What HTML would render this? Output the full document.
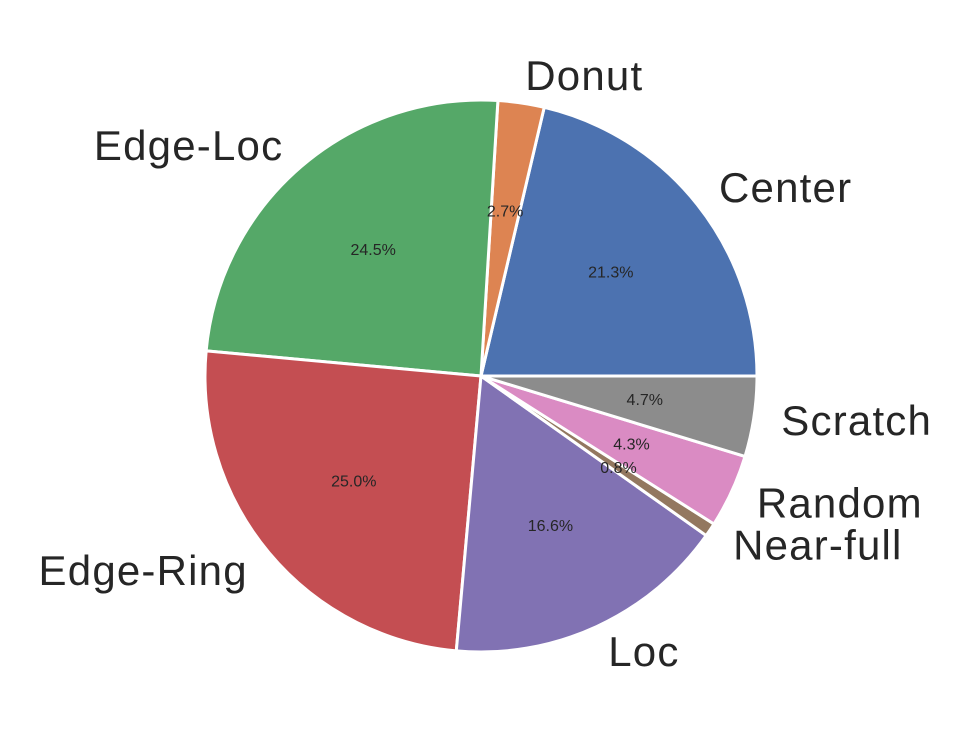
<!DOCTYPE html>
<html><head><meta charset="utf-8"><style>
html,body{margin:0;padding:0;background:#fff;}
svg{display:block;}
text{font-family:"Liberation Sans",sans-serif;fill:#262626;}
</style></head><body>
<svg id="chart" width="962" height="753" viewBox="0 0 962 753" xmlns="http://www.w3.org/2000/svg"></svg>
<script>
const categories = ["Center","Donut","Edge-Loc","Edge-Ring","Loc","Near-full","Random","Scratch"];
const values = [21.3,2.7,24.5,25.0,16.6,0.8,4.3,4.7];
const pctLabels = ["21.3%","2.7%","24.5%","25.0%","16.6%","0.8%","4.3%","4.7%"];
const colors = ["#4C72B0","#DD8452","#55A868","#C44E52","#8172B3","#937860","#DA8BC3","#8C8C8C"];

const svg = document.getElementById('chart');
const NS = "http://www.w3.org/2000/svg";
const cx = 481, cy = 376, R = 276;
const total = values.reduce((a,b)=>a+b,0);
function pt(r, deg){ const a = deg*Math.PI/180; return [cx + r*Math.cos(a), cy - r*Math.sin(a)]; }
const gSlices = document.createElementNS(NS,'g');
const gText = document.createElementNS(NS,'g');
svg.appendChild(gSlices); svg.appendChild(gText);
let start = 0;
values.forEach((v,i)=>{
  const sweep = v/total*360;
  const end = start + sweep;
  const [x1,y1] = pt(R,start), [x2,y2] = pt(R,end);
  const large = sweep>180?1:0;
  const p = document.createElementNS(NS,'path');
  p.setAttribute('d',`M${cx},${cy} L${x1},${y1} A${R},${R} 0 ${large} 0 ${x2},${y2} Z`);
  p.setAttribute('fill',colors[i]);
  p.setAttribute('stroke','#fff');
  p.setAttribute('stroke-width','3');
  p.setAttribute('stroke-linejoin','round');
  
  
  gSlices.appendChild(p);
  const mid = start + sweep/2;
  const [lx,ly] = pt(R*1.1, mid);
  const t = document.createElementNS(NS,'text');
  t.setAttribute('x',lx); t.setAttribute('y',ly);
  t.setAttribute('font-size','42');
  t.setAttribute('letter-spacing','1.2');
  t.setAttribute('dominant-baseline','central');
  t.setAttribute('text-anchor', Math.cos(mid*Math.PI/180) >= 0 ? 'start' : 'end');
  t.textContent = categories[i];
  
  
  gText.appendChild(t);
  const [px,py] = pt(R*0.6, mid);
  const pt2 = document.createElementNS(NS,'text');
  pt2.setAttribute('x',px); pt2.setAttribute('y',py);
  pt2.setAttribute('font-size','16');
  pt2.setAttribute('dominant-baseline','central');
  pt2.setAttribute('text-anchor','middle');
  pt2.textContent = pctLabels[i];
  
  
  gText.appendChild(pt2);
  start = end;
});
</script>
</body></html>
